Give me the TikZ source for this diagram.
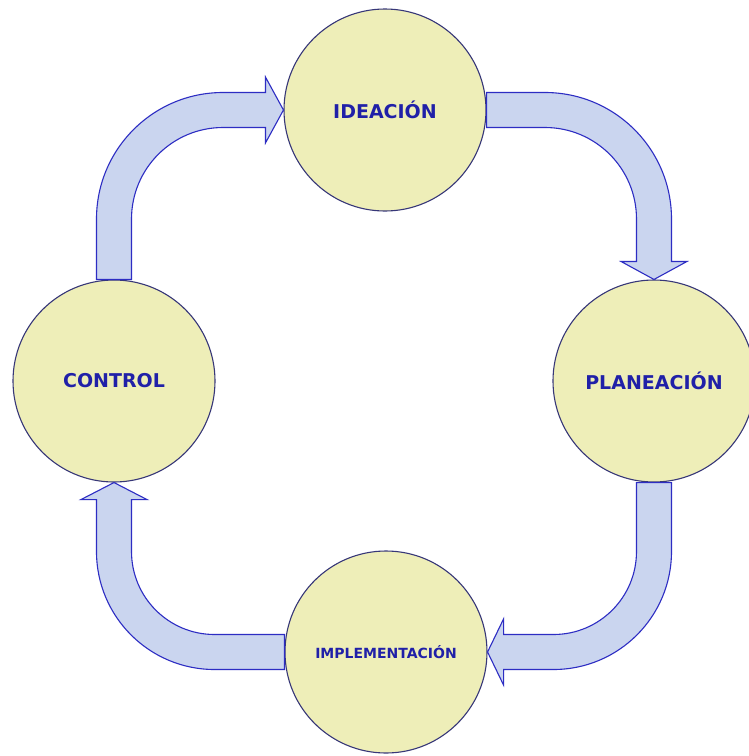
\documentclass[tikz,border=0pt]{standalone}
\usepackage{fontspec}
\setmainfont{DejaVu Sans}
\usetikzlibrary{calc}
\definecolor{circfill}{RGB}{238,238,184}
\definecolor{circline}{RGB}{55,55,120}
\definecolor{arrfill}{RGB}{202,213,239}
\definecolor{arrline}{RGB}{45,45,195}
\definecolor{txtblue}{RGB}{32,32,168}
\tikzset{
  stage/.style={circle, draw=circline, line width=1.1pt, fill=circfill,
    minimum size=202pt, inner sep=0pt, text=txtblue,
    font=\bfseries\fontsize{19}{22}\selectfont},
  smallstage/.style={stage, font=\bfseries\fontsize{14}{16}\selectfont},
  bigarrow/.style={draw=arrline, fill=arrfill, line width=1.1pt, line join=miter}
}
\begin{document}
\begin{tikzpicture}[x=1pt,y=1pt]
\clip (0,0) rectangle (749,-756);
\fill[white] (0,0) rectangle (749,-756);

\node[stage] (ide) at (385,-110) {IDEACIÓN};
\node[stage] (pla) at (654,-381) {PLANEACIÓN};
\node[stage] (con) at (114,-381) {CONTROL};
\node[smallstage] (imp) at (386,-652) {IMPLEMENTACIÓN};

\coordinate (cA) at ($(con.north |- ide.west)+(109,-109)$);
\coordinate (cB) at ($(pla.north |- ide.east)+(-109,-109)$);
\coordinate (cC) at ($(pla.south |- imp.east)+(-100.5,100.5)$);
\coordinate (cD) at ($(con.south |- imp.west)+(100.5,100.5)$);

% CONTROL -> IDEACION
\path[bigarrow] ($(con.north)+(-17.5,0)$) -- ($(cA)+(-126.5,0)$)
  arc[start angle=180, end angle=90, radius=126.5]
  -- ($(ide.west)+(-18,17.5)$) -- ($(ide.west)+(-18,33)$) -- (ide.west)
  -- ($(ide.west)+(-18,-33)$) -- ($(ide.west)+(-18,-17.5)$)
  -- ($(cA)+(0,91.5)$) arc[start angle=90, end angle=180, radius=91.5]
  -- ($(con.north)+(17.5,0)$) -- cycle;

% IDEACION -> PLANEACION
\path[bigarrow] ($(ide.east)+(0,17.5)$) -- ($(cB)+(0,126.5)$)
  arc[start angle=90, end angle=0, radius=126.5]
  -- ($(pla.north)+(17.5,18)$) -- ($(pla.north)+(33,18)$) -- (pla.north)
  -- ($(pla.north)+(-33,18)$) -- ($(pla.north)+(-17.5,18)$)
  -- ($(cB)+(91.5,0)$) arc[start angle=0, end angle=90, radius=91.5]
  -- ($(ide.east)+(0,-17.5)$) -- cycle;

% PLANEACION -> IMPLEMENTACION
\path[bigarrow] ($(pla.south)+(17.5,0)$) -- ($(cC)+(118,0)$)
  arc[start angle=0, end angle=-90, radius=118]
  -- ($(imp.east)+(16,-17.5)$) -- ($(imp.east)+(16,-33)$) -- (imp.east)
  -- ($(imp.east)+(16,33)$) -- ($(imp.east)+(16,17.5)$)
  -- ($(cC)+(0,-83)$) arc[start angle=-90, end angle=0, radius=83]
  -- ($(pla.south)+(-17.5,0)$) -- cycle;

% IMPLEMENTACION -> CONTROL
\path[bigarrow] ($(imp.west)+(0,-17.5)$) -- ($(cD)+(0,-118)$)
  arc[start angle=-90, end angle=-180, radius=118]
  -- ($(con.south)+(-17.5,-17)$) -- ($(con.south)+(-33,-17)$) -- (con.south)
  -- ($(con.south)+(33,-17)$) -- ($(con.south)+(17.5,-17)$)
  -- ($(cD)+(-83,0)$) arc[start angle=180, end angle=270, radius=83]
  -- ($(imp.west)+(0,17.5)$) -- cycle;
\end{tikzpicture}
\end{document}
